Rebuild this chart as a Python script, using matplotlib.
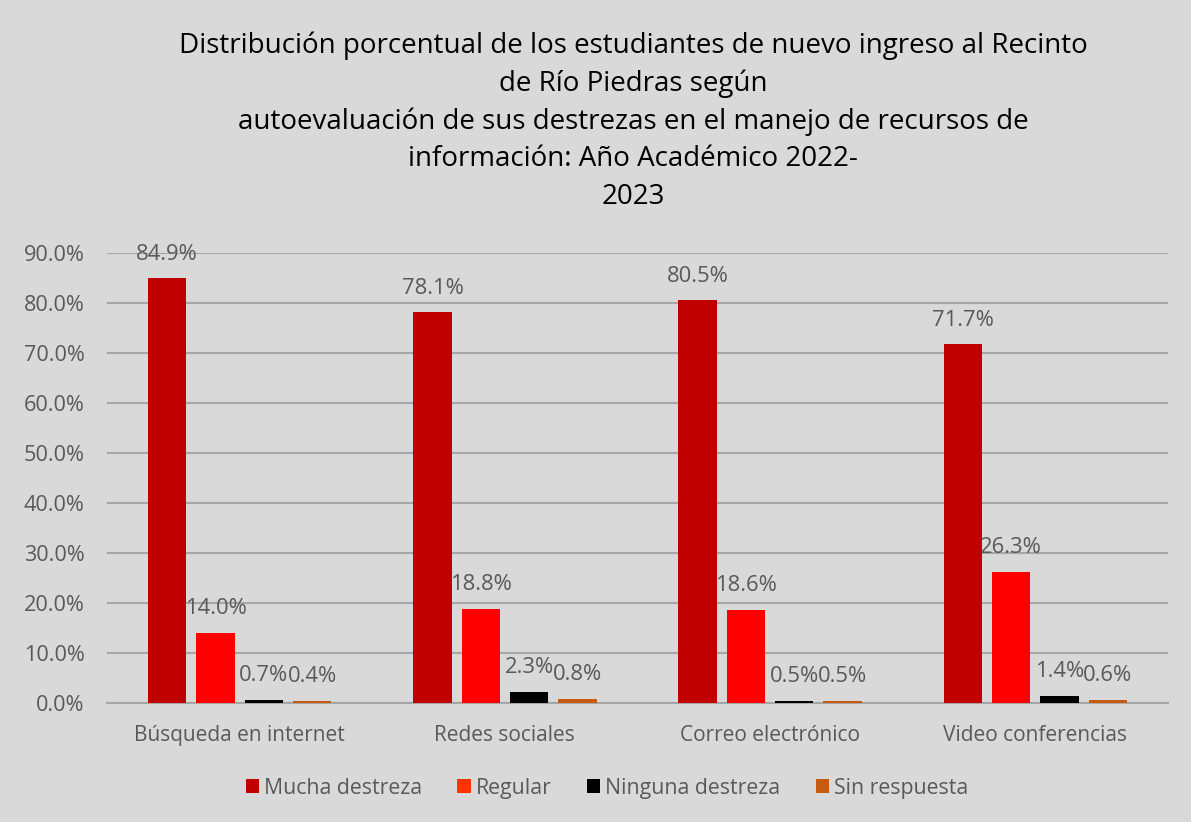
import matplotlib
matplotlib.use("Agg")
import matplotlib.pyplot as plt
import numpy as np
from matplotlib.patches import Patch

categories = ["Búsqueda en internet", "Redes sociales", "Correo electrónico", "Video conferencias"]
series_names = ["Mucha destreza", "Regular", "Ninguna destreza", "Sin respuesta"]
mucha = [84.9, 78.1, 80.5, 71.7]
regular = [14.0, 18.8, 18.6, 26.3]
ninguna = [0.7, 2.3, 0.5, 1.4]
sin_resp = [0.4, 0.8, 0.5, 0.6]
yticks = [0, 10, 20, 30, 40, 50, 60, 70, 80, 90]
title = ("Distribución porcentual de los estudiantes de nuevo ingreso al Recinto\n"
         "de Río Piedras según\n"
         "autoevaluación de sus destrezas en el manejo de recursos de\n"
         "información: Año Académico 2022-\n"
         "2023")

bar_colors = ["#C00000", "#FF0000", "#000000", "#C55A11"]
legend_colors = ["#C00000", "#FF3300", "#000000", "#C55A11"]
bg = "#D9D9D9"
txt = "#595959"

plt.rcParams['font.family'] = ['Open Sans', 'DejaVu Sans']

fig = plt.figure(figsize=(11.91, 8.22), dpi=100, facecolor=bg)
ax = fig.add_axes([107 / 1191, 1 - 703 / 822, 1061 / 1191, 450 / 822])
ax.set_facecolor(bg)

x = np.arange(len(categories))
slot = 0.182
width = 0.145
all_series = [mucha, regular, ninguna, sin_resp]
for i, vals in enumerate(all_series):
    off = (i - 1.5) * slot
    bars = ax.bar(x + off, vals, width, color=bar_colors[i], zorder=3)
    for b, v in zip(bars, vals):
        ax.annotate(f"{v:.1f}%", (b.get_x() + b.get_width() / 2, v),
                    xytext=(0, 17.5), textcoords="offset points",
                    ha="center", va="center", fontsize=15.8, color=txt, zorder=4)

ax.set_xlim(-0.5, len(categories) - 0.5)
ax.set_ylim(0, 90)
ax.set_yticks(yticks)
ax.set_yticklabels([f"{t:.1f}%" for t in yticks])
ax.set_xticks(x)
ax.set_xticklabels(categories)
ax.tick_params(axis="y", length=0, labelsize=15.6, colors=txt, pad=16)
ax.tick_params(axis="x", length=0, labelsize=15, colors=txt, pad=16)
ax.grid(axis="y", color="#A6A6A6", linewidth=1.5, zorder=0)
for s in ["top", "right", "left"]:
    ax.spines[s].set_visible(False)
ax.spines["bottom"].set_color("#A6A6A6")
ax.spines["bottom"].set_linewidth(1.5)

handles = [Patch(facecolor=c, edgecolor="none") for c in legend_colors]
fig.legend(handles, series_names, loc="center", bbox_to_anchor=(607 / 1191, 1 - 788 / 822),
           ncol=4, frameon=False, fontsize=15.3, labelcolor=txt,
           handlelength=0.62, handleheight=0.62, handletextpad=0.25, columnspacing=1.65)

fig.text(633 / 1191, 1 - 121 / 822, title, ha="center", va="center", fontsize=20,
         color="#000000", linespacing=1.45)

fig.savefig("out.png", dpi=100, facecolor=bg)
